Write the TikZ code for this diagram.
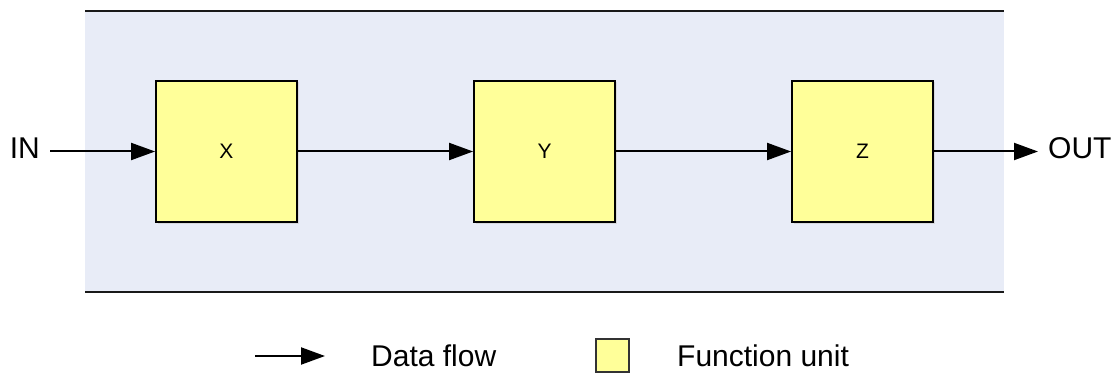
\documentclass[tikz,border=0pt]{standalone}
\usepackage{fontspec}
\setmainfont{Liberation Sans}
\usetikzlibrary{arrows.meta,shadows}
\definecolor{bgblue}{HTML}{E8ECF7}
\definecolor{unityellow}{HTML}{FFFF99}
\begin{document}
\begin{tikzpicture}[x=1pt,y=-1pt,
  flow/.style={line width=2pt,-{Triangle[length=24pt,width=17pt]}},
  unit/.style={draw=black,line width=1.8pt,fill=unityellow,
    minimum width=141pt,minimum height=141pt,inner sep=0pt,
    drop shadow={shadow xshift=1.5pt,shadow yshift=-1.5pt,fill=black!20,opacity=.6},
    font=\fontsize{21}{25}\selectfont},
  lbl/.style={inner sep=0pt,font=\fontsize{30}{35}\selectfont},
  rule/.style={line width=2.2pt,draw=black!90}]
\useasboundingbox (0,0) rectangle (1114,377);

% shaded band with top and bottom rules
\fill[bgblue] (85,11) rectangle (1004,292);
\draw[rule] (85,11) -- (1004,11);
\draw[rule] (85,292) -- (1004,292);

% function units
\node[unit] (x) at (226.5,151.5) {X};
\node[unit] (y) at (544.5,151.5) {Y};
\node[unit] (z) at (862.5,151.5) {Z};

% input and output
\node[lbl,anchor=base east] (in) at (40,159) {IN};
\coordinate (inS) at (50,151.5);
\coordinate (outE) at (1038,151.5);
\node[lbl,anchor=base west] (out) at (1048,159) {OUT};

% data flow
\draw[flow] (inS) -- (x.west);
\draw[flow] (x.east) -- (y.west);
\draw[flow] (y.east) -- (z.west);
\draw[flow] (z.east) -- (outE);

% legend
\coordinate (la) at (255,356);
\coordinate (lb) at (325,356);
\draw[flow] (la) -- (lb);
\node[lbl,anchor=base west] (lflow) at (371,366) {Data flow};
\node[draw=black!80,line width=1.2pt,fill=unityellow,minimum size=33pt,inner sep=0pt] (lsq) at (612.5,355.5) {};
\node[lbl,anchor=base west] (lunit) at (677,366) {Function unit};
\end{tikzpicture}
\end{document}
